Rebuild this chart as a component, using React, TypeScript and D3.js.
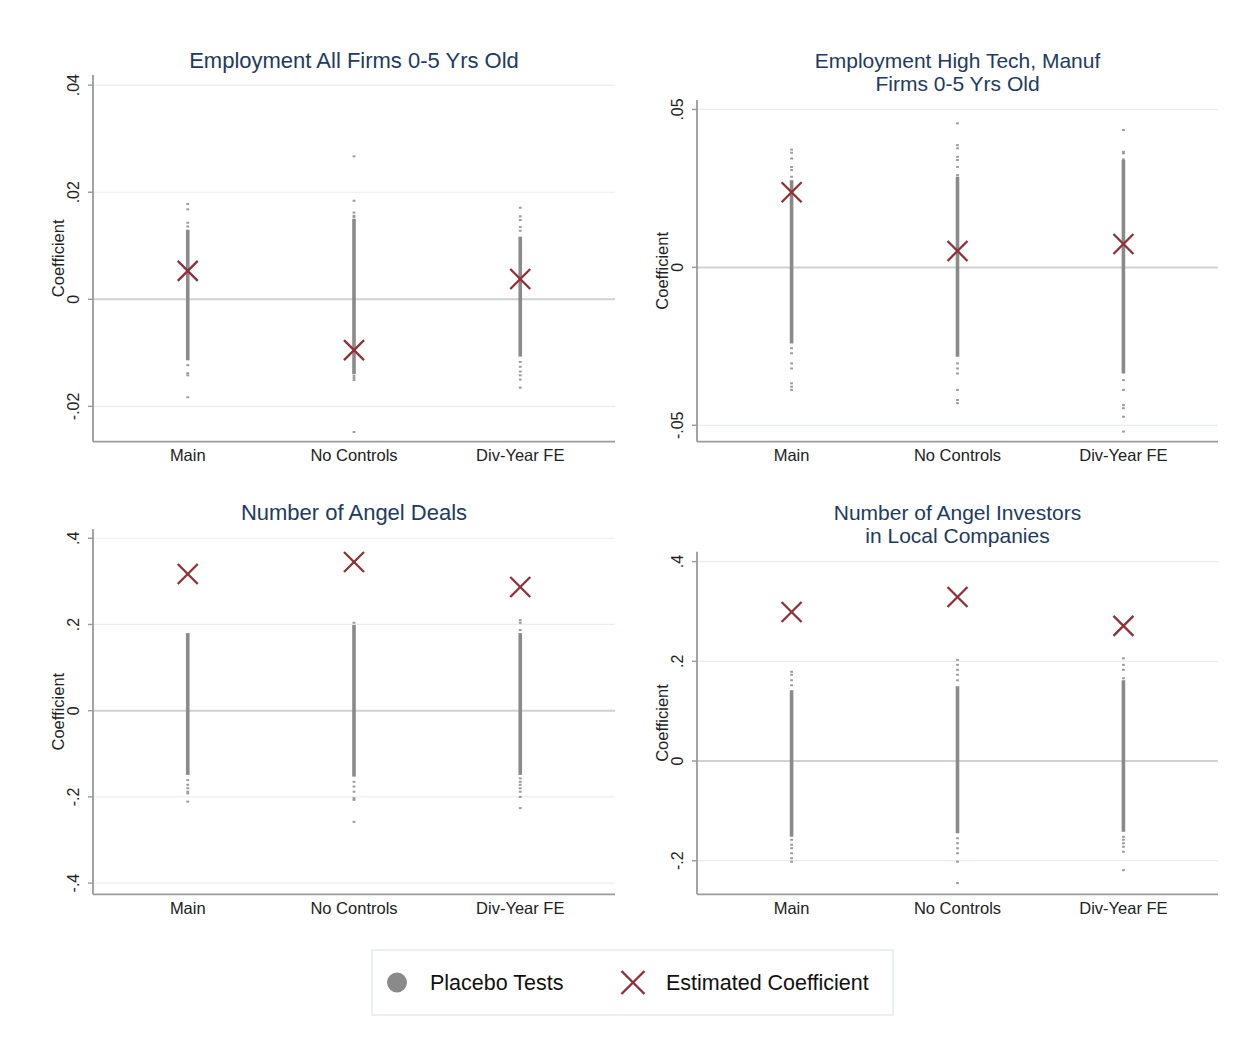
import React from "react";
import * as d3 from "d3";

// ---------- data ----------
const categories = ["Main", "No Controls", "Div-Year FE"];

const panelTitles: string[][] = [
  ["Employment All Firms 0-5 Yrs Old"],
  ["Employment High Tech, Manuf", "Firms 0-5 Yrs Old"],
  ["Number of Angel Deals"],
  ["Number of Angel Investors", "in Local Companies"],
];

const yTickValues: number[][] = [
  [-0.02, 0, 0.02, 0.04],
  [-0.05, 0, 0.05],
  [-0.4, -0.2, 0, 0.2, 0.4],
  [-0.2, 0, 0.2, 0.4],
];
const yTickLabels: string[][] = [
  ["-.02", "0", ".02", ".04"],
  ["-.05", "0", ".05"],
  ["-.4", "-.2", "0", ".2", ".4"],
  ["-.2", "0", ".2", ".4"],
];
const yDomains: [number, number][] = [
  [-0.0266, 0.0419],
  [-0.0552, 0.053],
  [-0.426, 0.4215],
  [-0.2674, 0.4199],
];

// estimated coefficients (panel x category)
const estimated: number[][] = [
  [0.0053, -0.0095, 0.0038],
  [0.0238, 0.0052, 0.0074],
  [0.317, 0.345, 0.287],
  [0.299, 0.329, 0.271],
];

// dense core of the placebo distribution (low, high) per panel x category
const placeboCoreLow: number[][] = [
  [-0.0114, -0.014, -0.0107],
  [-0.0241, -0.0283, -0.0336],
  [-0.149, -0.153, -0.149],
  [-0.152, -0.145, -0.142],
];
const placeboCoreHigh: number[][] = [
  [0.013, 0.015, 0.0117],
  [0.0276, 0.0287, 0.034],
  [0.18, 0.199, 0.18],
  [0.142, 0.15, 0.162],
];
// scattered placebo coefficients outside the dense core
const placeboTails: number[][][] = [
  [
    [0.0178, 0.0168, 0.0143, 0.0136, -0.0123, -0.0138, -0.0142, -0.0183],
    [0.0267, 0.0184, 0.0162, 0.0156, 0.0153, -0.0143, -0.0147, -0.0151, -0.0248],
    [0.0171, 0.0155, 0.0148, 0.0135, 0.0128, -0.0117, -0.0126, -0.0135, -0.0142, -0.015, -0.0165],
  ],
  [
    [0.0373, 0.0363, 0.0345, 0.0318, 0.0308, 0.0287, -0.0256, -0.0272, -0.0304, -0.032, -0.0367, -0.0378, -0.0388],
    [0.0456, 0.0387, 0.0377, 0.035, 0.034, 0.0318, 0.0292, -0.0304, -0.032, -0.0336, -0.0388, -0.042, -0.043],
    [0.0435, 0.0366, 0.0361, 0.0342, -0.0357, -0.0388, -0.0436, -0.0446, -0.0473, -0.052],
  ],
  [
    [-0.161, -0.172, -0.18, -0.188, -0.192, -0.211],
    [0.204, -0.165, -0.176, -0.188, -0.203, -0.207, -0.258],
    [0.21, 0.204, 0.187, -0.157, -0.165, -0.172, -0.18, -0.188, -0.2, -0.226],
  ],
  [
    [0.179, 0.173, 0.162, 0.152, -0.158, -0.168, -0.175, -0.185, -0.195, -0.202],
    [0.203, 0.193, 0.183, 0.173, 0.162, -0.155, -0.165, -0.175, -0.185, -0.202, -0.245],
    [0.206, 0.193, 0.183, 0.166, -0.152, -0.158, -0.165, -0.172, -0.182, -0.219],
  ],
];

const legendLabels = ["Placebo Tests", "Estimated Coefficient"];

// ---------- layout ----------
const W = 1253;
const H = 1045;
const FONT = "'Liberation Sans', Arial, Helvetica, sans-serif";
const TITLE_COLOR = "#223a5e";
const DOT = "#8a8a8a";
const XCOL = "#8f3038";

const panelRects = [
  { left: 93, right: 615, top: 75, bottom: 441.7, titleY: [68] },
  { left: 697, right: 1218, top: 100, bottom: 441.7, titleY: [67.5, 90.5] },
  { left: 93, right: 615, top: 529, bottom: 894.3, titleY: [520] },
  { left: 697, right: 1218, top: 551.7, bottom: 894.3, titleY: [519.5, 542.5] },
];

function XMark({ cx, cy, r, sw }: { cx: number; cy: number; r: number; sw: number }) {
  return (
    <g stroke={XCOL} strokeWidth={sw} strokeLinecap="butt">
      <line x1={cx - r} y1={cy - r} x2={cx + r} y2={cy + r} />
      <line x1={cx - r} y1={cy + r} x2={cx + r} y2={cy - r} />
    </g>
  );
}

function Panel({ i }: { i: number }) {
  const p = panelRects[i];
  const x = d3.scaleLinear().domain([0.43, 3.57]).range([p.left, p.right]);
  const y = d3.scaleLinear().domain(yDomains[i]).range([p.bottom, p.top]);
  const cx = (p.left + p.right) / 2;
  const cy = (p.top + p.bottom) / 2;
  const titleSize = panelTitles[i].length > 1 ? 21 : 22;
  return (
    <g>
      {/* title */}
      {panelTitles[i].map((t, k) => (
        <text key={k} x={cx} y={p.titleY[k]} textAnchor="middle" fontSize={titleSize} fill={TITLE_COLOR} fontFamily={FONT}>
          {t}
        </text>
      ))}
      {/* gridlines */}
      {yTickValues[i].map((v, k) =>
        v === 0 ? null : (
          <line key={k} x1={p.left} x2={p.right} y1={y(v)} y2={y(v)} stroke="#e6eff0" strokeWidth={1.2} />
        )
      )}
      {/* zero line */}
      <line x1={p.left} x2={p.right} y1={y(0)} y2={y(0)} stroke="#cfd2d2" strokeWidth={2} />
      {/* axes */}
      <line x1={p.left} x2={p.left} y1={p.top} y2={p.bottom} stroke="#9a9a9a" strokeWidth={1.8} />
      <line x1={p.left} x2={p.right} y1={p.bottom} y2={p.bottom} stroke="#9a9a9a" strokeWidth={1.8} />
      {/* y ticks */}
      {yTickValues[i].map((v, k) => (
        <g key={k}>
          <line x1={p.left - 5} x2={p.left} y1={y(v)} y2={y(v)} stroke="#9a9a9a" strokeWidth={1.4} />
          <text
            transform={`translate(${p.left - 14},${y(v)}) rotate(-90)`}
            textAnchor="middle"
            fontSize={16}
            fill="#222"
            fontFamily={FONT}
          >
            {yTickLabels[i][k]}
          </text>
        </g>
      ))}
      {/* y title */}
      <text
        transform={`translate(${p.left - 29},${cy}) rotate(-90)`}
        textAnchor="middle"
        fontSize={16.5}
        fill="#222"
        fontFamily={FONT}
      >
        Coefficient
      </text>
      {/* x labels */}
      {categories.map((c, j) => (
        <text key={c} x={x(j + 1)} y={p.bottom + 19.5} textAnchor="middle" fontSize={16.5} fill="#222" fontFamily={FONT}>
          {c}
        </text>
      ))}
      {/* placebo */}
      {categories.map((c, j) => {
        const px = x(j + 1);
        const y1 = y(placeboCoreHigh[i][j]);
        const y2 = y(placeboCoreLow[i][j]);
        return (
          <g key={"p" + j}>
            <rect x={px - 1.8} y={y1} width={3.6} height={y2 - y1} fill={DOT} />
            {placeboTails[i][j].map((v, k) => (
              <rect key={k} x={px - 1.4} y={y(v) - 1} width={2.8} height={2} fill={DOT} opacity={0.85} />
            ))}
          </g>
        );
      })}
      {/* estimates */}
      {categories.map((c, j) => (
        <XMark key={"x" + j} cx={x(j + 1)} cy={y(estimated[i][j])} r={10} sw={2.3} />
      ))}
    </g>
  );
}

export default function App() {
  return (
    <svg
      width={W}
      height={H}
      viewBox={`0 0 ${W} ${H}`}
      style={{ position: "absolute", left: 0, top: 0, background: "#fff" }}
    >
      <rect x={0} y={0} width={W} height={H} fill="#fff" />
      {[0, 1, 2, 3].map((i) => (
        <Panel key={i} i={i} />
      ))}
      {/* legend */}
      <g>
        <rect x={372} y={950} width={521} height={65} fill="#fff" stroke="#e4eced" strokeWidth={1.5} />
        <circle cx={397} cy={982.5} r={10} fill={DOT} />
        <text x={430} y={990} fontSize={21.5} fill="#111" fontFamily={FONT}>
          {legendLabels[0]}
        </text>
        <XMark cx={633} cy={982.5} r={11.5} sw={2.4} />
        <text x={666} y={990} fontSize={21.5} fill="#111" fontFamily={FONT}>
          {legendLabels[1]}
        </text>
      </g>
    </svg>
  );
}
